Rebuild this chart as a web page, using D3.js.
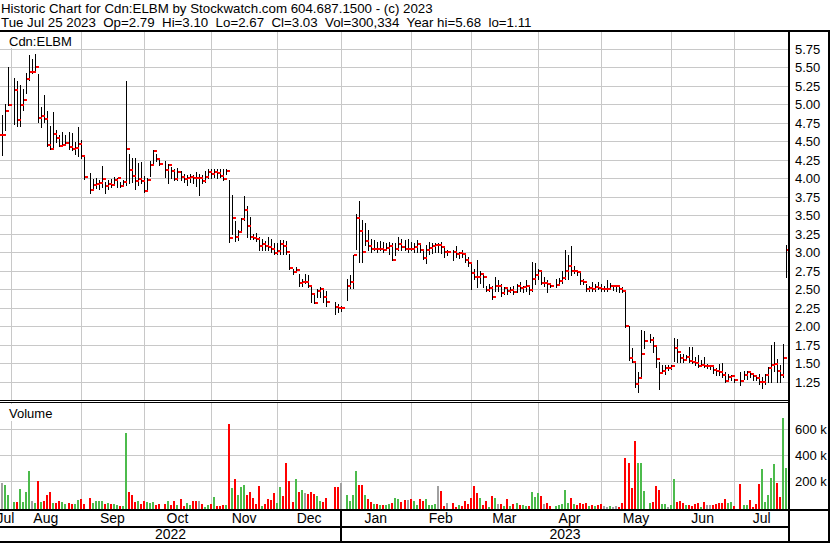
<!DOCTYPE html>
<html><head><meta charset="utf-8">
<script src="https://cdn.jsdelivr.net/npm/d3@7"></script>
<style>body{margin:0;background:#fff}svg{display:block;font-family:"Liberation Sans",Arial,sans-serif}</style>
</head><body><svg id="c" width="830" height="543"></svg>
<script>
// ---------- data ----------
const titleLine1 = "Historic Chart for Cdn:ELBM by Stockwatch.com 604.687.1500 - (c) 2023";
const titleLine2 = "Tue Jul 25 2023  Op=2.79  Hi=3.10  Lo=2.67  Cl=3.03  Vol=300,334  Year hi=5.68  lo=1.11";
const symbolLabel = "Cdn:ELBM";
const volumeLabel = "Volume";
const firstDay = "2022-07-26", lastDay = "2023-07-25"; // weekday slots
// one entry per weekday slot (null = no trade)
const high = [4.80,4.85,5.00,5.50,null,5.36,5.31,5.26,5.20,5.42,5.67,5.61,5.68,5.41,4.97,5.13,4.91,4.71,4.90,4.65,
4.58,4.63,4.58,4.62,4.61,4.49,4.69,4.52,4.31,null,4.07,3.99,4.01,3.97,4.16,3.95,3.97,3.99,4.02,4.00,
3.95,3.97,5.31,4.33,4.27,4.27,4.21,4.22,4.03,4.00,4.24,4.38,4.33,4.27,null,4.24,4.19,4.15,4.13,4.14,
4.10,4.06,4.04,4.06,4.04,4.08,4.06,4.04,4.10,4.13,4.13,4.12,4.12,4.12,4.13,4.12,3.97,3.77,3.42,3.30,
3.46,3.76,3.62,3.47,3.25,3.26,3.20,3.18,3.15,3.20,3.18,3.12,3.12,3.17,3.17,3.15,2.98,2.78,2.80,2.71,
2.64,2.70,2.69,2.53,2.45,2.50,2.53,2.52,2.47,null,null,2.33,2.30,2.28,null,2.64,2.69,2.96,3.52,3.69,
3.43,3.39,3.30,3.18,3.16,3.14,3.15,3.14,3.12,3.14,3.13,3.12,3.20,3.18,3.16,3.18,3.14,3.12,3.17,3.12,
3.03,3.10,3.14,3.12,3.13,3.12,3.14,3.07,3.03,null,3.03,3.08,3.01,3.03,2.99,2.94,2.85,2.78,2.89,2.75,
2.71,2.55,2.57,2.55,2.66,2.62,2.57,2.53,2.51,2.53,2.55,2.57,2.60,2.55,2.62,2.55,2.87,2.85,2.78,2.73,
2.66,2.62,2.57,null,2.64,2.65,2.75,3.03,2.96,3.09,2.82,2.76,2.75,2.64,2.57,2.55,2.60,2.57,2.60,2.57,
2.55,2.62,2.58,2.56,2.56,2.55,2.53,2.47,2.00,1.70,1.52,1.38,1.95,1.93,null,1.90,1.86,1.75,1.51,1.47,
1.47,1.47,1.48,1.84,1.83,1.63,1.62,1.61,1.72,1.72,1.59,1.61,1.55,1.58,1.49,1.47,1.45,1.44,1.49,1.50,
1.38,1.36,1.34,1.29,null,1.38,1.40,1.39,1.38,1.36,1.34,1.36,1.31,1.36,1.45,1.74,1.79,1.56,1.47,1.76,3.10];
const low = [4.40,4.31,4.65,4.99,null,4.74,4.70,4.70,4.92,5.15,5.33,5.42,5.44,4.76,4.69,4.76,4.43,4.39,4.39,4.49,
4.43,4.43,4.45,4.39,4.38,4.33,4.30,4.27,3.99,null,3.80,3.85,3.87,3.85,3.88,3.80,3.86,3.88,3.91,3.88,
3.88,3.91,3.91,3.93,3.95,3.85,3.91,3.93,3.82,3.84,4.03,4.19,4.23,4.18,null,4.02,3.93,4.00,3.97,3.98,
3.97,3.95,3.91,3.95,3.93,3.90,3.77,3.94,3.95,4.00,4.00,4.02,4.00,4.02,3.98,4.06,3.14,3.25,3.15,3.17,
3.27,3.43,3.20,3.18,3.18,3.15,3.03,3.03,3.03,3.03,3.00,2.98,2.98,2.98,2.97,2.98,2.78,2.71,2.73,2.55,
2.55,2.59,2.53,2.33,2.31,2.39,2.40,2.33,2.27,null,null,2.17,2.19,2.21,null,2.35,2.51,2.52,3.05,2.87,
2.87,3.10,3.03,3.00,3.03,3.00,3.03,3.00,3.03,2.98,2.89,2.96,3.03,3.03,3.03,3.00,3.03,3.00,3.00,3.00,
2.91,2.85,2.97,2.99,3.00,3.00,2.99,2.94,2.96,null,2.90,2.94,2.92,2.94,2.87,2.81,2.50,2.64,2.53,2.59,
2.53,2.48,2.48,2.37,2.48,2.48,2.41,2.44,2.44,2.46,2.44,2.46,2.48,2.46,2.48,2.44,2.48,2.57,2.64,2.57,
2.55,2.46,2.53,null,2.53,2.58,2.59,2.64,2.64,2.69,2.72,2.69,2.57,2.57,2.48,2.48,2.48,2.48,2.50,2.48,
2.47,2.47,2.50,2.49,2.48,2.46,2.46,1.99,1.54,1.52,1.18,1.11,1.32,1.70,null,1.79,1.65,1.45,1.15,1.38,
1.36,1.41,1.42,1.53,1.52,1.52,1.52,1.54,1.52,1.50,1.47,1.45,1.46,1.45,1.43,1.42,1.37,1.34,1.34,1.31,
1.24,1.27,1.27,1.25,null,1.20,1.29,1.29,1.31,1.27,1.27,1.22,1.16,1.22,1.25,1.25,1.40,1.25,1.25,1.31,2.67];
const close = [4.59,4.59,4.91,4.99,null,5.19,4.79,4.99,5.06,5.34,5.44,5.44,5.51,4.81,4.84,4.80,4.45,4.40,4.60,4.54,
4.43,4.45,4.48,4.42,4.40,4.41,4.46,4.30,4.02,null,3.84,3.91,3.92,3.94,3.99,3.89,3.92,3.91,3.97,4.00,
3.89,3.95,4.39,4.11,4.03,3.96,3.99,3.96,3.83,3.98,4.18,4.37,4.26,4.19,null,4.11,4.18,4.10,3.99,4.08,
4.02,3.99,4.01,4.02,4.01,4.00,4.00,3.96,4.02,4.09,4.06,4.09,4.07,4.03,3.99,4.10,3.19,3.46,3.21,3.27,
3.45,3.57,3.35,3.21,3.19,3.18,3.08,3.11,3.08,3.07,3.05,2.99,3.02,3.11,3.09,3.00,2.79,2.73,2.76,2.59,
2.60,2.60,2.55,2.44,2.32,2.48,2.50,2.40,2.33,null,null,2.26,2.25,2.25,null,2.54,2.60,2.96,3.46,3.29,
3.01,3.15,3.08,3.04,3.05,3.04,3.05,3.03,3.06,3.08,2.89,3.05,3.11,3.07,3.05,3.05,3.04,3.07,3.11,3.03,
2.92,3.03,3.06,3.09,3.10,3.10,3.07,3.01,3.01,null,3.00,2.98,2.99,2.98,2.90,2.85,2.72,2.67,2.66,2.70,
2.66,2.49,2.52,2.39,2.54,2.54,2.45,2.51,2.47,2.49,2.46,2.54,2.51,2.53,2.54,2.49,2.64,2.69,2.74,2.58,
2.58,2.57,2.54,null,2.56,2.61,2.65,2.75,2.81,2.74,2.75,2.73,2.61,2.60,2.50,2.52,2.50,2.53,2.52,2.50,
2.50,2.50,2.54,2.54,2.54,2.50,2.47,2.00,1.57,1.52,1.22,1.30,1.62,1.80,null,1.82,1.73,1.56,1.37,1.40,
1.43,1.43,1.46,1.70,1.65,1.57,1.55,1.59,1.53,1.52,1.50,1.46,1.47,1.46,1.46,1.46,1.41,1.39,1.38,1.34,
1.26,1.31,1.33,1.27,null,1.26,1.34,1.38,1.35,1.33,1.30,1.24,1.25,1.34,1.43,1.48,1.49,1.39,1.34,1.57,3.03];
// volume in thousands of shares
const volumeK = [150,188,173,92,null,38,38,143,38,115,275,51,33,199,38,46,92,115,33,33,
46,38,28,31,25,23,54,61,25,null,69,33,51,46,51,28,33,23,25,20,
10,8,565,115,97,38,46,25,51,38,33,38,20,25,null,25,46,20,51,20,
61,8,36,15,46,46,46,28,5,15,25,76,8,8,15,20,634,145,214,97,
155,168,92,115,74,25,160,8,28,61,53,109,33,153,84,336,199,38,214,115,
130,109,99,115,99,84,51,38,74,null,null,155,155,188,null,92,46,92,275,168,
168,92,61,38,25,28,15,15,15,25,33,71,61,38,56,56,61,46,15,61,
46,61,15,15,28,163,122,8,33,null,36,5,15,8,46,25,71,163,109,71,
15,46,5,84,71,25,25,8,61,8,25,31,15,15,8,10,115,79,107,84,
28,31,8,null,8,15,25,130,33,71,25,15,36,25,33,8,15,8,15,25,
8,3,8,3,8,3,33,374,336,145,504,341,341,122,null,33,41,160,135,25,
25,3,15,214,41,46,36,15,20,8,25,33,3,41,15,15,15,25,36,36,
61,36,41,8,null,176,15,15,53,3,23,176,290,41,97,224,328,183,79,682,300.334];
const priceTicks = [5.75,5.50,5.25,5.00,4.75,4.50,4.25,4.00,3.75,3.50,3.25,3.00,2.75,2.50,2.25,2.00,1.75,1.50,1.25];
const volumeTicks = [200,400,600];
const monthNames = ["Jul","Aug","Sep","Oct","Nov","Dec","Jan","Feb","Mar","Apr","May","Jun","Jul"];
const yearNames = ["2022","2023"];

// ---------- setup ----------
const svg = d3.select("#c");
const W = 830, H = 543;
const plotRight = 789;
const parse = d3.timeParse("%Y-%m-%d"), fmt = d3.timeFormat("%Y-%m-%d");
const days = d3.timeDay.range(parse(firstDay), d3.timeDay.offset(parse(lastDay), 1))
  .filter(d => d.getDay() > 0 && d.getDay() < 6).map(fmt);
const x = d3.scalePoint().domain(days).range([-1.1, 785.9]);
const yP = d3.scaleLinear().domain([1.0, 5.75]).range([400.2, 48.8]);
const yV = d3.scaleLinear().domain([0, 800]).range([507.4, 402.6]);

// month boundaries: first of month, or previous Friday if it falls on a weekend
const monthStarts = d3.timeMonth.range(new Date(2022,7,1), new Date(2023,7,1)).map(d => {
  const dd = (d.getDay() === 0 || d.getDay() === 6) ? d3.timeFriday.floor(d) : d;
  return x(fmt(dd));
});
const bounds = [0, ...monthStarts, plotRight];
const yearSplit = monthStarts[5];

const grid = "#c8c8c8";
const gG = svg.append("g").attr("shape-rendering","crispEdges");
gG.selectAll(".hp").data(priceTicks).join("line")
  .attr("x1",0).attr("x2",plotRight).attr("y1",d=>Math.round(yP(d))+0.5).attr("y2",d=>Math.round(yP(d))+0.5)
  .attr("stroke",grid);
gG.selectAll(".hv").data(volumeTicks).join("line")
  .attr("x1",0).attr("x2",plotRight).attr("y1",d=>Math.round(yV(d))+0.5).attr("y2",d=>Math.round(yV(d))+0.5)
  .attr("stroke",grid);
monthStarts.forEach(mx => {
  const xx = Math.round(mx)+0.5;
  gG.append("line").attr("x1",xx).attr("x2",xx).attr("y1",31).attr("y2",400).attr("stroke",grid);
  gG.append("line").attr("x1",xx).attr("x2",xx).attr("y1",403).attr("y2",509).attr("stroke",grid);
});

// labels with white backgrounds
svg.append("rect").attr("x",0).attr("y",32).attr("width",77).attr("height",16).attr("fill","#fff");
svg.append("text").attr("x",9).attr("y",46).attr("font-size",13).text(symbolLabel);
svg.append("rect").attr("x",0).attr("y",404).attr("width",58).attr("height",17).attr("fill","#fff");
svg.append("text").attr("x",9).attr("y",418).attr("font-size",13).text(volumeLabel);

// ---------- price bars ----------
const idx = d3.range(days.length).filter(i => close[i] != null);
const gB = svg.append("g").attr("shape-rendering","crispEdges");
gB.selectAll("line.b").data(idx).join("line")
  .attr("x1",i=>Math.round(x(days[i]))+0.5).attr("x2",i=>Math.round(x(days[i]))+0.5)
  .attr("y1",i=>yP(high[i])).attr("y2",i=>yP(low[i])+1)
  .attr("stroke","#000").attr("stroke-width",1);
gB.selectAll("rect.c").data(idx).join("rect")
  .attr("x",i=>Math.round(x(days[i]))+1).attr("width",3)
  .attr("y",i=>Math.round(yP(close[i]))-1).attr("height",2)
  .attr("fill","#ff0000");

// ---------- volume bars ----------
function dirColor(i){
  let j = i-1; while (j >= 0 && close[j] == null) j--;
  if (j < 0) return "#a0a0a0";
  if (close[i] > close[j]) return "#4cbb4c";
  if (close[i] < close[j]) return "#ff0000";
  return "#a0a0a0";
}
const vidx = d3.range(days.length).filter(i => volumeK[i] != null);
svg.append("g").attr("shape-rendering","crispEdges").selectAll("rect").data(vidx).join("rect")
  .attr("x",i=>Math.round(x(days[i]))-1).attr("width",2)
  .attr("y",i=>yV(volumeK[i])).attr("height",i=>509-yV(volumeK[i]))
  .attr("fill",dirColor);

// ---------- frame ----------
const fr = svg.append("g").attr("shape-rendering","crispEdges").attr("stroke","#000");
fr.append("line").attr("x1",0).attr("x2",W).attr("y1",30.5).attr("y2",30.5).attr("stroke-width",2);
fr.append("line").attr("x1",0).attr("x2",plotRight).attr("y1",400.5).attr("y2",400.5);
fr.append("line").attr("x1",0).attr("x2",plotRight).attr("y1",402.5).attr("y2",402.5);
fr.append("line").attr("x1",0).attr("x2",W).attr("y1",510).attr("y2",510).attr("stroke-width",2);
fr.append("line").attr("x1",0).attr("x2",plotRight).attr("y1",527).attr("y2",527).attr("stroke-width",2);
fr.append("line").attr("x1",0).attr("x2",W).attr("y1",541.5).attr("y2",541.5).attr("stroke-width",2);
fr.append("line").attr("x1",plotRight).attr("x2",plotRight).attr("y1",30).attr("y2",H).attr("stroke-width",2);
fr.append("line").attr("x1",828.5).attr("x2",828.5).attr("y1",30).attr("y2",H).attr("stroke-width",2);
fr.append("line").attr("x1",Math.round(yearSplit)).attr("x2",Math.round(yearSplit)).attr("y1",510).attr("y2",542).attr("stroke-width",2);

// ---------- axis labels ----------
svg.append("g").selectAll("text").data(priceTicks).join("text")
  .attr("x",795).attr("y",d=>yP(d)+5).attr("font-size",13).text(d=>d3.format(".2f")(d));
svg.append("g").selectAll("text").data(volumeTicks).join("text")
  .attr("x",795).attr("y",d=>yV(d)+5).attr("font-size",13).text(d=>d+" k");
svg.append("g").selectAll("text").data(monthNames).join("text")
  .attr("x",(d,i)=>(bounds[i]+bounds[i+1])/2).attr("y",523).attr("text-anchor","middle")
  .attr("font-size",14).text(d=>d);
svg.append("g").selectAll("text").data(yearNames).join("text")
  .attr("x",(d,i)=>i===0 ? yearSplit/2 : (yearSplit+plotRight)/2).attr("y",539).attr("text-anchor","middle")
  .attr("font-size",14).text(d=>d);

// ---------- title ----------
svg.append("text").attr("x",1).attr("y",13).attr("font-size",13.3).style("white-space","pre").text(titleLine1);
svg.append("text").attr("x",1).attr("y",27).attr("font-size",13.3).style("white-space","pre").text(titleLine2);
</script></body></html>
